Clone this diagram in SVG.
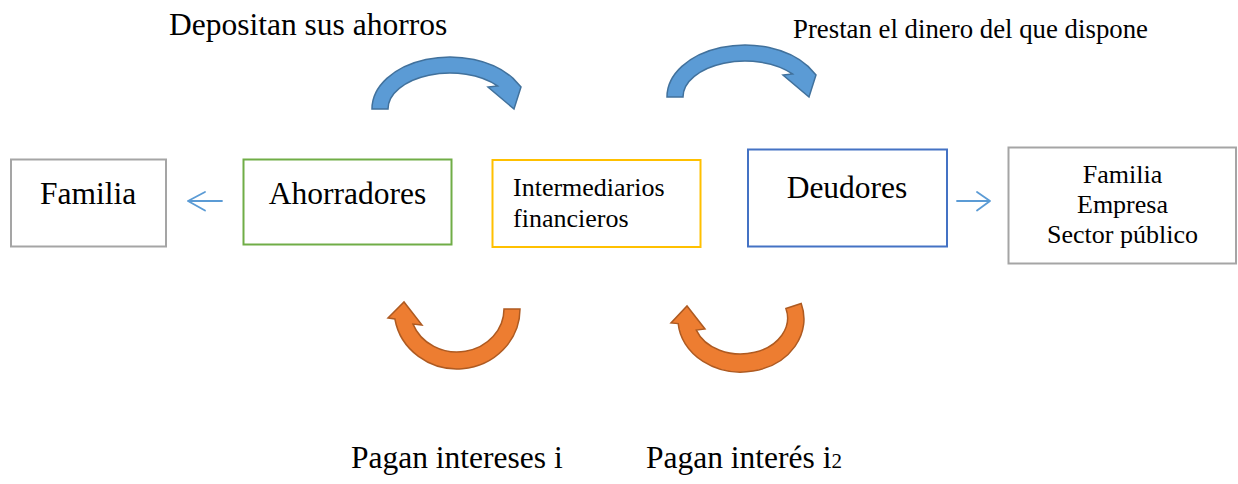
<svg xmlns="http://www.w3.org/2000/svg" width="1238" height="484" viewBox="0 0 1238 484">
<style>
.box{fill:#FFFFFF;stroke-width:2}
.gray{stroke:#A5A5A5}
.green{stroke:#70AD47}
.yellow{stroke:#FFC000}
.blue{stroke:#4472C4}
text{font-family:"Liberation Serif","Times New Roman",serif;fill:#000000}
.big{font-size:31.5px}
.mid{font-size:26px}
.top2{font-size:26.8px}
.conn{fill:none;stroke:#5B9BD5;stroke-width:1.8;stroke-linecap:round;stroke-linejoin:round}
.barrow{fill:#5B9BD5;stroke:#41719C;stroke-width:1.5;stroke-linejoin:miter}
.oarrow{fill:#ED7D31;stroke:#AE5A21;stroke-width:1.5;stroke-linejoin:miter}
</style>
<rect width="1238" height="484" fill="#FFFFFF"/>
<g id="familia">
<rect class="box gray" x="11" y="159.5" width="155" height="87"/>
<text class="big" x="88" y="204" text-anchor="middle">Familia</text>
</g>
<g id="ahorradores">
<rect class="box green" x="243.5" y="159.5" width="208" height="85"/>
<text class="big" x="347.5" y="204" text-anchor="middle">Ahorradores</text>
</g>
<g id="intermediarios">
<rect class="box yellow" x="492.5" y="160" width="208" height="87"/>
<text class="mid" x="513" y="196">Intermediarios</text>
<text class="mid" x="513" y="227">financieros</text>
</g>
<g id="deudores">
<rect class="box blue" x="748" y="149.5" width="199" height="97"/>
<text class="big" x="847" y="198" text-anchor="middle">Deudores</text>
</g>
<g id="destinos">
<rect class="box gray" x="1008.5" y="147.5" width="227.5" height="116"/>
<text class="mid" x="1122.5" y="183" text-anchor="middle">Familia</text>
<text class="mid" x="1122.5" y="213" text-anchor="middle">Empresa</text>
<text class="mid" x="1122.5" y="243" text-anchor="middle">Sector público</text>
</g>
<g id="connectors">
<path class="conn" d="M222,201 L188,201 M205,192 L188,201 L205,210.5"/>
<path class="conn" d="M957,201 L990,201 M977,192 L990,201 L977,210.5"/>
<path class="barrow" d="M372,109 A78,52 0 0 1 513.1,78.4 L521,87 L514,109 L488,87 L497.5,85.9 A62,36 0 0 0 388,109 Z"/>
<path class="barrow" transform="translate(295,-12)" d="M372,109 A78,52 0 0 1 513.1,78.4 L521,87 L514,109 L488,87 L497.5,85.9 A62,36 0 0 0 388,109 Z"/>
<path class="oarrow" d="M520,309 A63,60 0 0 1 394.9,319 L388,318 L404,302 L422,325 L413,324.1 A47,43 0 0 0 504,309 Z"/>
<path class="oarrow" d="M801.2,303.5 A63,53 0 1 1 678.2,323.6 L671,323 L687,306 L705,329 L696.3,330.1 A47,36 0 0 0 785.9,308.5 Z"/>
</g>
<g id="labels">
<text class="big" x="169" y="35">Depositan sus ahorros</text>
<text class="top2" x="793" y="38">Prestan el dinero del que dispone</text>
<text class="big" x="351" y="468">Pagan intereses i</text>
<text class="big" x="646" y="468">Pagan interés i<tspan font-size="21">2</tspan></text>
</g>
</svg>
